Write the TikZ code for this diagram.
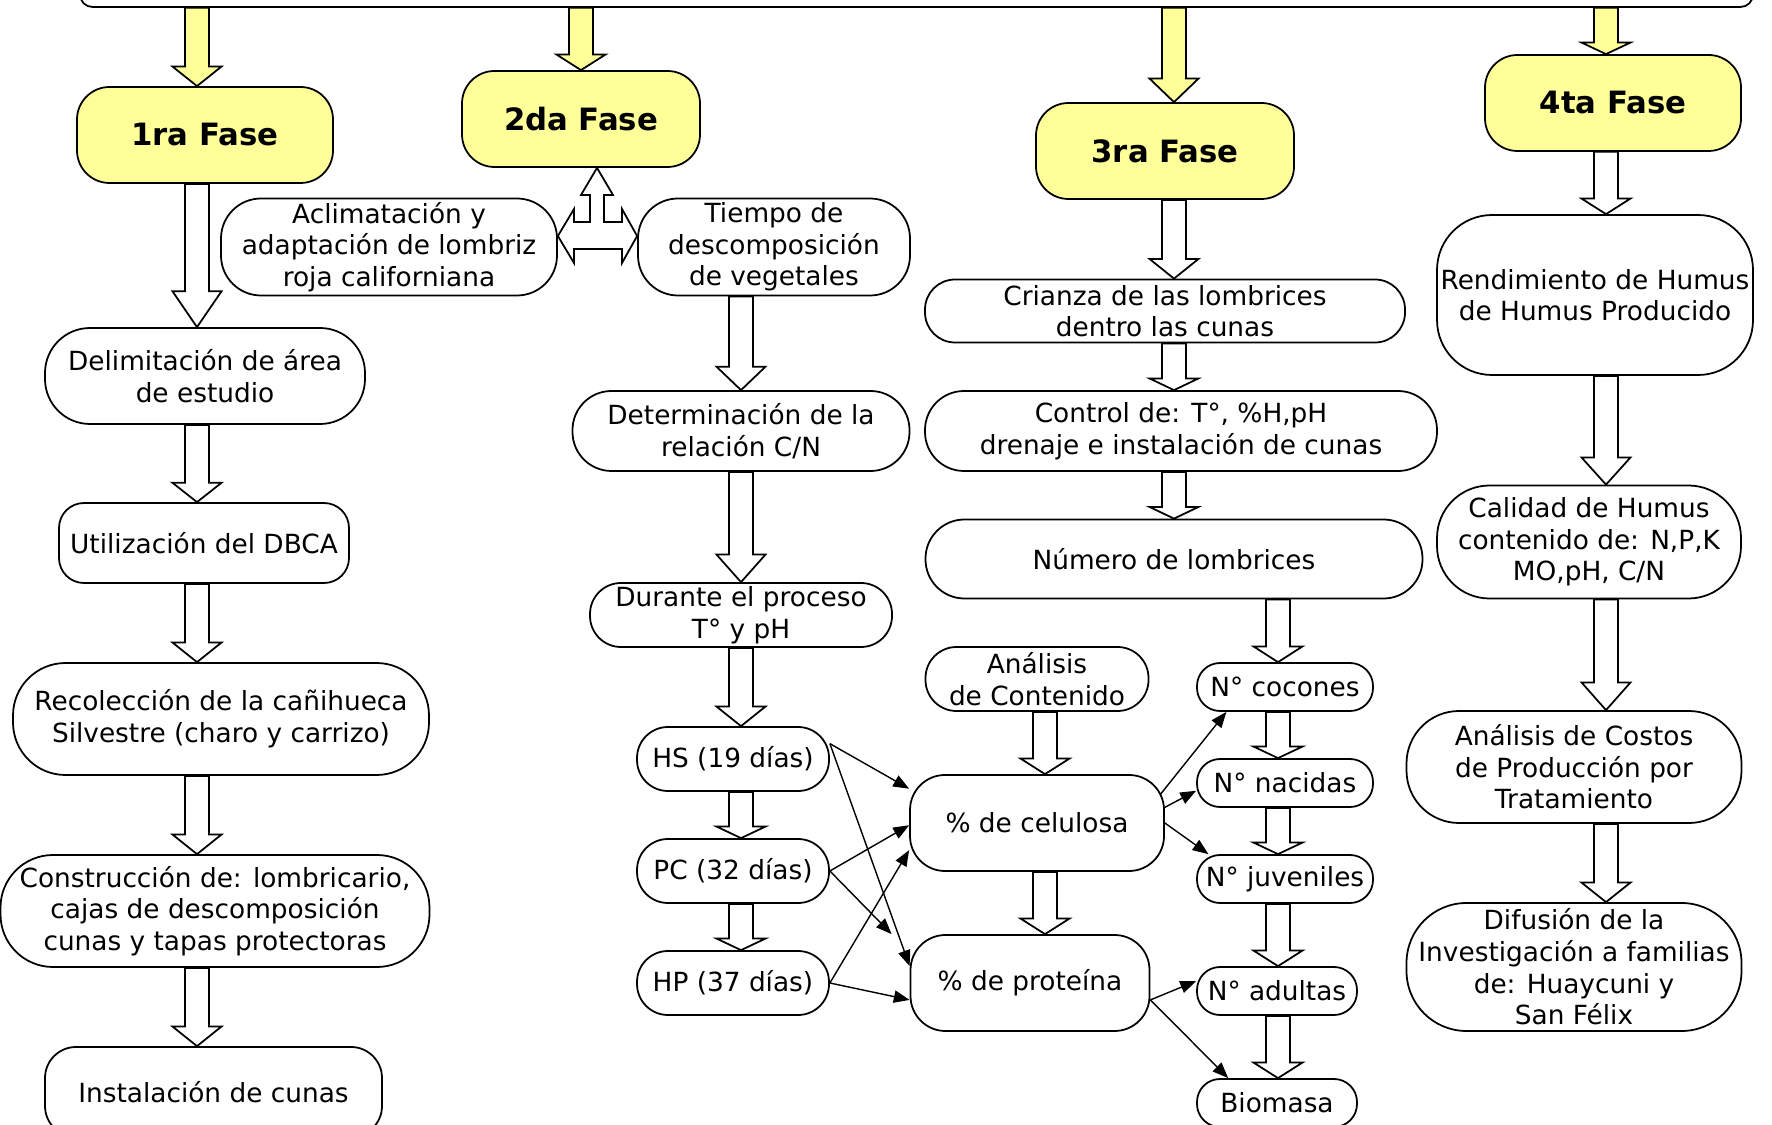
\documentclass[tikz,border=0pt]{standalone}
\usepackage{fontspec}
\setmainfont{DejaVu Sans}
\usetikzlibrary{arrows.meta,calc}
\definecolor{amarillo}{HTML}{FFFF99}

% fat vertical arrow: [fill]{x in cm}{from node}{to node}
\newcommand{\flecha}[4][white]{%
  \draw[gruesa, fill=#1] let \p1=(#3.south), \p2=(#4.north),
    \n1={0.25*(\y1-(\y2))} in
    ({#2cm-0.24cm},\y1) -- ({#2cm-0.24cm},{\y2+\n1})
    -- ({#2cm-0.49cm},{\y2+\n1}) -- (#2cm,\y2)
    -- ({#2cm+0.49cm},{\y2+\n1}) -- ({#2cm+0.24cm},{\y2+\n1})
    -- ({#2cm+0.24cm},\y1) -- cycle;}

\begin{document}
\begin{tikzpicture}[
    marco/.style={draw, line width=1pt, rounded corners=0.25cm},
    fasenodo/.style={draw, fill=amarillo, line width=1pt, rounded
      corners=0.65cm, minimum width=5.12cm, minimum height=1.92cm,
      font=\fontsize{17.5}{21}\selectfont\bfseries},
    paso/.style={draw, line width=1pt, rounded corners=0.62cm,
      align=center, inner sep=1pt, font=\fontsize{15}{18}\selectfont},
    pasoalto/.style={paso, rounded corners=1.05cm},
    dato/.style={paso, rounded corners=0.46cm, minimum width=3.52cm,
      minimum height=0.96cm},
    gruesa/.style={draw, line width=1pt, line join=miter},
    flechita/.style={-{Triangle[length=9pt,width=7pt]}, line width=0.8pt},
  ]
  \useasboundingbox (0,0) rectangle (35.44,-22.5);

  % top frame
  \node[marco, minimum width=33.46cm, minimum height=1.8cm] (top) at (18.33,0.76) {};

  % phases
  \node[fasenodo] (f1) at (4.10,-2.70) {1ra Fase};
  \node[fasenodo, minimum width=4.76cm] (f2) at (11.62,-2.38) {2da Fase};
  \node[fasenodo, minimum width=5.16cm] (f3) at (23.30,-3.02) {3ra Fase};
  \node[fasenodo] (f4) at (32.26,-2.06) {4ta Fase};

  \flecha[amarillo]{3.94}{top}{f1}
  \flecha[amarillo]{11.62}{top}{f2}
  \flecha[amarillo]{23.48}{top}{f3}
  \flecha[amarillo]{32.12}{top}{f4}

  % first phase
  \node[paso, rounded corners=0.9cm, minimum width=6.40cm, minimum height=1.92cm]
    (delim) at (4.10,-7.52) {Delimitación de área\\de estudio};
  \node[paso, rounded corners=0.5cm, minimum width=5.80cm, minimum height=1.60cm]
    (dbca) at (4.08,-10.86) {Utilización del DBCA};
  \node[pasoalto, minimum width=8.32cm, minimum height=2.24cm]
    (recol) at (4.42,-14.38) {Recolección de la cañihueca\\Silvestre (charo y carrizo)};
  \node[pasoalto, minimum width=8.58cm, minimum height=2.24cm]
    (constr) at (4.30,-18.22) {Construcción de: lombricario,\\cajas de descomposición\\cunas y tapas protectoras};
  \node[paso, minimum width=6.74cm, minimum height=1.80cm]
    (inst) at (4.27,-21.84) {Instalación de cunas};

  \flecha{3.94}{f1}{delim}
  \flecha{3.94}{delim}{dbca}
  \flecha{3.94}{dbca}{recol}
  \flecha{3.94}{recol}{constr}
  \flecha{3.94}{constr}{inst}

  % second phase
  \node[paso, rounded corners=0.8cm, minimum width=6.72cm, minimum height=1.94cm]
    (acli) at (7.78,-4.94) {Aclimatación y\\adaptación de lombriz\\roja californiana};
  \node[paso, rounded corners=0.8cm, minimum width=5.44cm, minimum height=1.94cm]
    (tiempo) at (15.48,-4.94) {Tiempo de\\descomposición\\de vegetales};
  \node[paso, rounded corners=0.78cm, minimum width=6.74cm, minimum height=1.60cm]
    (relcn) at (14.82,-8.62) {Determinación de la\\relación C/N};
  \node[paso, minimum width=6.04cm, minimum height=1.28cm]
    (durante) at (14.82,-12.30) {Durante el proceso\\T° y pH};
  \node[paso, minimum width=3.84cm, minimum height=1.28cm] (hs) at (14.66,-15.18) {HS (19 días)};
  \node[paso, minimum width=3.84cm, minimum height=1.28cm] (pc) at (14.66,-17.42) {PC (32 días)};
  \node[paso, minimum width=3.84cm, minimum height=1.28cm] (hp) at (14.66,-19.66) {HP (37 días)};

  \draw[gruesa, fill=white] let \p1=(acli.east), \p2=(tiempo.west), \p3=(f2.south) in
    (11.94cm,\y3) -- (12.26,-3.90) -- (12.08,-3.90) -- (12.08,-4.44)
    -- (12.44,-4.44) -- (12.44,-4.18) -- (\x2,-4.72cm) -- (12.44,-5.26)
    -- (12.44,-4.98) -- (11.48,-4.98) -- (11.48,-5.26) -- (\x1,-4.72cm)
    -- (11.48,-4.18) -- (11.48,-4.44) -- (11.80,-4.44) -- (11.80,-3.90)
    -- (11.62,-3.90) -- cycle;

  \flecha{14.82}{tiempo}{relcn}
  \flecha{14.82}{relcn}{durante}
  \flecha{14.82}{durante}{hs}
  \flecha{14.82}{hs}{pc}
  \flecha{14.82}{pc}{hp}

  % third phase
  \node[paso, rounded corners=0.6cm, minimum width=9.60cm, minimum height=1.26cm]
    (crianza) at (23.30,-6.22) {Crianza de las lombrices\\dentro las cunas};
  \node[paso, rounded corners=0.78cm, minimum width=10.24cm, minimum height=1.60cm]
    (control) at (23.62,-8.62) {Control de: T°, \%H,pH\\drenaje e instalación de cunas};
  \node[paso, rounded corners=0.78cm, minimum width=9.94cm, minimum height=1.58cm]
    (numero) at (23.48,-11.18) {Número de lombrices};
  \node[paso, minimum width=4.46cm, minimum height=1.28cm]
    (analisis) at (20.74,-13.58) {Análisis\\de Contenido};
  \node[paso, rounded corners=0.7cm, minimum width=5.08cm, minimum height=1.92cm]
    (cel) at (20.74,-16.46) {\% de celulosa};
  \node[paso, rounded corners=0.7cm, minimum width=4.78cm, minimum height=1.92cm]
    (prot) at (20.60,-19.66) {\% de proteína};

  \node[dato] (coc) at (25.70,-13.74) {N° cocones};
  \node[dato] (nac) at (25.70,-15.66) {N° nacidas};
  \node[dato] (juv) at (25.70,-17.58) {N° juveniles};
  \node[dato, minimum width=3.20cm] (adu) at (25.54,-19.82) {N° adultas};
  \node[dato, minimum width=3.20cm] (bio) at (25.54,-22.06) {Biomasa};

  \flecha{23.48}{f3}{crianza}
  \flecha{23.48}{crianza}{control}
  \flecha{23.48}{control}{numero}
  \flecha{20.90}{analisis}{cel}
  \flecha{20.90}{cel}{prot}
  \flecha{25.56}{numero}{coc}
  \flecha{25.56}{coc}{nac}
  \flecha{25.56}{nac}{juv}
  \flecha{25.56}{juv}{adu}
  \flecha{25.56}{adu}{bio}

  \draw[flechita] (hs.9) -- (cel.165);
  \draw[flechita] (hs.9) -- (prot.172);
  \draw[flechita] (pc.east) -- (cel.181);
  \draw[flechita] (pc.east) -- ([xshift=-0.36cm]prot.north west);
  \draw[flechita] (hp.east) -- (cel.192);
  \draw[flechita] (hp.east) -- (prot.188);
  \draw[flechita, shorten <=-4pt] (cel.15) -- (coc.203);
  \draw[flechita] (cel.7) -- (nac.185);
  \draw[flechita] (cel.east) -- (juv.162);
  \draw[flechita] (prot.-8) -- (adu.173);
  \draw[flechita] (prot.-8) -- (bio.153);

  % fourth phase
  \node[paso, rounded corners=1.1cm, inner sep=0pt, minimum width=6.32cm, minimum height=3.20cm]
    (rend) at (31.90,-5.90) {Rendimiento de Humus\\de Humus Producido};
  \node[pasoalto, minimum width=6.08cm, minimum height=2.26cm]
    (calidad) at (31.78,-10.84) {Calidad de Humus\\contenido de: N,P,K\\MO,pH, C/N};
  \node[pasoalto, minimum width=6.70cm, minimum height=2.24cm]
    (costos) at (31.48,-15.34) {Análisis de Costos\\de Producción por\\Tratamiento};
  \node[pasoalto, rounded corners=1.2cm, minimum width=6.70cm, minimum height=2.56cm]
    (difusion) at (31.48,-19.34) {Difusión de la\\Investigación a familias\\de: Huaycuni y\\San Félix};

  \flecha{32.12}{f4}{rend}
  \flecha{32.12}{rend}{calidad}
  \flecha{32.12}{calidad}{costos}
  \flecha{32.12}{costos}{difusion}
\end{tikzpicture}
\end{document}
